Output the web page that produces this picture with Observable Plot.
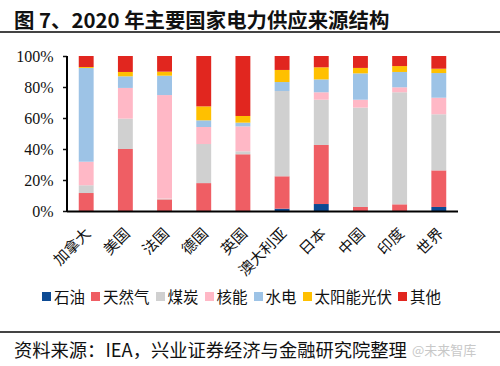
<!DOCTYPE html>
<html>
<head>
<meta charset="utf-8">
<script src="https://cdn.jsdelivr.net/npm/d3@7"></script>
<script src="https://cdn.jsdelivr.net/npm/@observablehq/plot@0.6"></script>
<style>
  html, body { margin: 0; padding: 0; background: #fff; }
  body { width: 500px; height: 366px; position: relative; overflow: hidden; font-family: "Noto Sans CJK SC", sans-serif; }
  #title { position: absolute; left: 0; top: 0; width: 500px; height: 33px; border-bottom: 2px solid #444;
           font-size: 20.4px; font-weight: bold; color: #111; line-height: 38px; padding-left: 14px; box-sizing: border-box; white-space: nowrap; }
  #chart { position: absolute; left: 0; top: 36px; }
  #legend { position: absolute; left: 42px; top: 285px; display: flex; align-items: center; font-size: 15.5px; color: #111; white-space: nowrap; }
  .item { display: flex; align-items: center; margin-right: 6px; }
  .sw { width: 9px; height: 9px; margin-right: 3px; }
  #caption { position: absolute; left: 0; top: 331px; width: 500px; height: 35px; border-top: 2px solid #444;
             font-size: 18.3px; color: #111; line-height: 33px; padding-left: 14px; box-sizing: border-box; white-space: nowrap; }
  #wm { position: absolute; left: 412px; top: 340px; font-size: 13px; color: #c8c8c8; }
</style>
</head>
<body>
<div id="title">图 7、2020 年主要国家电力供应来源结构</div>
<div id="chart"></div>
<div id="legend"></div>
<div id="caption">资料来源：IEA，兴业证券经济与金融研究院整理</div>
<div id="wm">@未来智库</div>
<script>
const countries = ["加拿大", "美国", "法国", "德国", "英国", "澳大利亚", "日本", "中国", "印度", "世界"];
const sources = ["石油", "天然气", "煤炭", "核能", "水电", "太阳能光伏", "其他"];
const colors = ["#0d4a93", "#ef5e64", "#d0d0d0", "#ffb8c6", "#9dc3e6", "#ffc000", "#e1261f"];

const oil     = [0,    0,    0,    0,    0,    1.5,  4.5,  0,    0,    2.6];
const gas     = [11.6, 40,   7.5,  18,   36.6, 20.9, 38.1, 2.6,  4.3,  23.6];
const coal    = [5,    19.6, 0.5,  25.2, 1.9,  55,   29.2, 64.1, 72.3, 36.2];
const nuclear = [15.2, 19.8, 66.8, 11,   16.1, 0,    4.8,  5.1,  3.2,  10.7];
const hydro   = [60.5, 7.5,  12.5, 4.3,  2.4,  5.8,  8.3,  17,   9.9,  15.9];
const solar   = [0.6,  2.8,  2.6,  9,    4.3,  7.8,  7.8,  3.5,  3.8,  2.8];
const other   = [7.1,  10.3, 10.1, 32.5, 38.7, 9,    7.3,  7.7,  6.5,  8.2];
const yTicks = [0, 20, 40, 60, 80, 100];

const series = [oil, gas, coal, nuclear, hydro, solar, other];
const data = [];
sources.forEach((s, i) => countries.forEach((c, j) => data.push({country: c, source: s, value: series[i][j]})));

const chart = Plot.plot({
  width: 500,
  height: 250,
  marginLeft: 67,
  marginRight: 42,
  marginTop: 20,
  marginBottom: 75,
  style: { background: "transparent", color: "#111" },
  x: { domain: countries, paddingInner: 0.62, paddingOuter: 0.3, round: false, label: null, axis: null },
  y: { domain: [0, 100], label: null },
  color: { domain: sources, range: colors },
  marks: [
    Plot.barY(data, { x: "country", y: "value", z: "source", fill: "source", order: sources }),
    Plot.axisY({ ticks: yTicks, tickFormat: d => d + "%", tickSize: 4, tickPadding: 10, strokeWidth: 1.5,
                 fontSize: 16, fontFamily: "Liberation Serif, serif", label: null }),
    Plot.text(countries, { x: d => d, frameAnchor: "bottom", rotate: -45, textAnchor: "end",
                           dx: 5, dy: 23, fontSize: 15, fontFamily: "Noto Sans CJK SC", fill: "#111" }),
    Plot.ruleY([0], { stroke: "#000", strokeWidth: 2 })
  ]
});

// y-axis line using the chart's own scales
const xs = chart.scale("x"), ys = chart.scale("y");
const svg = d3.select(chart.tagName === "svg" ? chart : chart.querySelector("svg"));
const yRange = ys.range;
svg.append("line")
  .attr("x1", xs.range[0]).attr("x2", xs.range[0])
  .attr("y1", yRange[0] + 1).attr("y2", yRange[1])
  .attr("stroke", "#000").attr("stroke-width", 2);

document.getElementById("chart").appendChild(chart);

const legend = document.getElementById("legend");
sources.forEach((s, i) => {
  const it = document.createElement("div");
  it.className = "item";
  it.innerHTML = `<span class="sw" style="background:${colors[i]}"></span><span>${s}</span>`;
  legend.appendChild(it);
});
</script>
</body>
</html>
